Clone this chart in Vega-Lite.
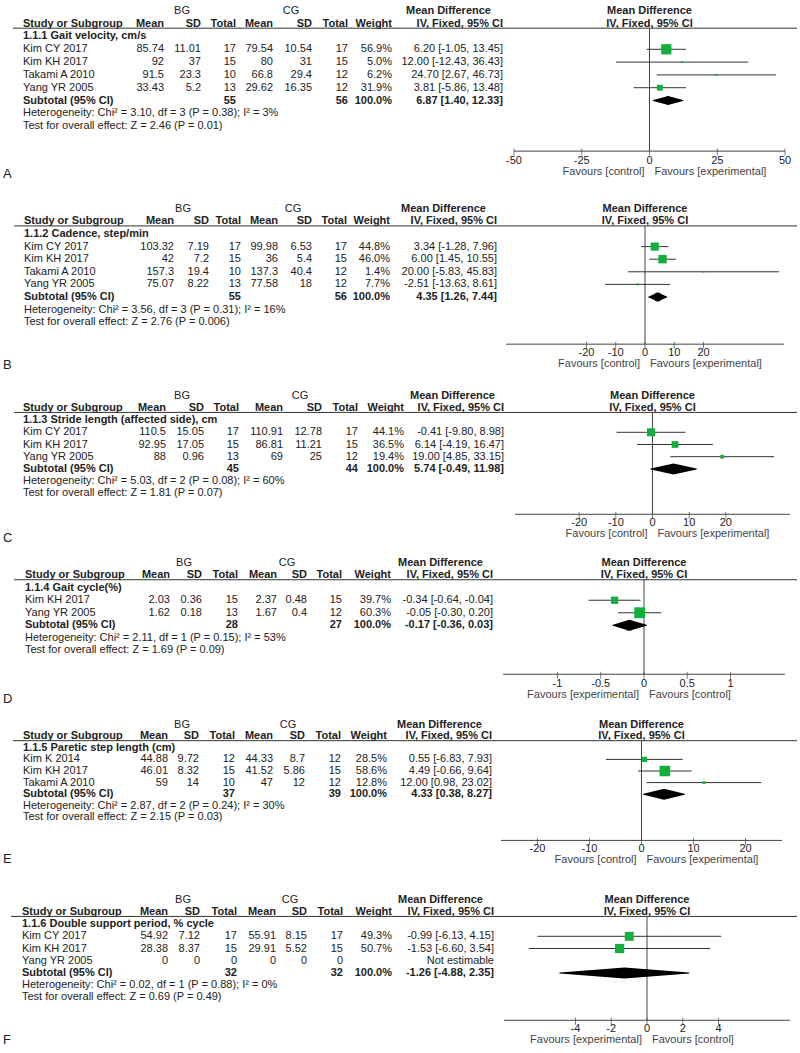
{
"$schema":"https://vega.github.io/schema/vega-lite/v6.json",
"padding":0,
"background":"white",
"spacing":0,
"bounds":"flush",
"config":{"view":{"stroke":null},"text":{"font":"Liberation Sans","fontSize":11,"baseline":"middle","color":"#222"},"concat":{"spacing":0}},
"resolve":{"scale":{"x":"independent","y":"independent","size":"independent"}},
"datasets":{"rows":[
{"p":"A","kind":"grp","label":"","g1":"BG","g2":"CG","mdh":"Mean Difference"},
{"p":"A","kind":"hdr","label":"Study or Subgroup","bm":"Mean","bs":"SD","bn":"Total","cm":"Mean","cs":"SD","cn":"Total","w":"Weight","ci":"IV, Fixed, 95% CI"},
{"p":"A","kind":"title","label":"1.1.1 Gait velocity, cm/s"},
{"p":"A","kind":"study","label":"Kim CY 2017","bm":85.74,"bs":11.01,"bn":17,"cm":79.54,"cs":10.54,"cn":17,"w":"56.9%","wt":56.9,"md":6.2,"lo":-1.05,"hi":13.45,"ci":"6.20 [-1.05, 13.45]"},
{"p":"A","kind":"study","label":"Kim KH 2017","bm":92,"bs":37,"bn":15,"cm":80,"cs":31,"cn":15,"w":"5.0%","wt":5,"md":12,"lo":-12.43,"hi":36.43,"ci":"12.00 [-12.43, 36.43]"},
{"p":"A","kind":"study","label":"Takami A 2010","bm":91.5,"bs":23.3,"bn":10,"cm":66.8,"cs":29.4,"cn":12,"w":"6.2%","wt":6.2,"md":24.7,"lo":2.67,"hi":46.73,"ci":"24.70 [2.67, 46.73]"},
{"p":"A","kind":"study","label":"Yang YR 2005","bm":33.43,"bs":5.2,"bn":13,"cm":29.62,"cs":16.35,"cn":12,"w":"31.9%","wt":31.9,"md":3.81,"lo":-5.86,"hi":13.48,"ci":"3.81 [-5.86, 13.48]"},
{"p":"A","kind":"sub","label":"Subtotal (95% CI)","bn":55,"cn":56,"w":"100.0%","md":6.87,"lo":1.4,"hi":12.33,"ci":"6.87 [1.40, 12.33]"},
{"p":"A","kind":"het","label":"Heterogeneity: Chi² = 3.10, df = 3 (P = 0.38); I² = 3%"},
{"p":"A","kind":"test","label":"Test for overall effect: Z = 2.46 (P = 0.01)","fl":"Favours [control]","fr":"Favours [experimental]","letter":"A","ticks":[-50,-25,0,25,50]},

{"p":"B","kind":"grp","label":"","g1":"BG","g2":"CG","mdh":"Mean Difference"},
{"p":"B","kind":"hdr","label":"Study or Subgroup","bm":"Mean","bs":"SD","bn":"Total","cm":"Mean","cs":"SD","cn":"Total","w":"Weight","ci":"IV, Fixed, 95% CI"},
{"p":"B","kind":"title","label":"1.1.2 Cadence, step/min"},
{"p":"B","kind":"study","label":"Kim CY 2017","bm":103.32,"bs":7.19,"bn":17,"cm":99.98,"cs":6.53,"cn":17,"w":"44.8%","wt":44.8,"md":3.34,"lo":-1.28,"hi":7.96,"ci":"3.34 [-1.28, 7.96]"},
{"p":"B","kind":"study","label":"Kim KH 2017","bm":42,"bs":7.2,"bn":15,"cm":36,"cs":5.4,"cn":15,"w":"46.0%","wt":46,"md":6,"lo":1.45,"hi":10.55,"ci":"6.00 [1.45, 10.55]"},
{"p":"B","kind":"study","label":"Takami A 2010","bm":157.3,"bs":19.4,"bn":10,"cm":137.3,"cs":40.4,"cn":12,"w":"1.4%","wt":1.4,"md":20,"lo":-5.83,"hi":45.83,"ci":"20.00 [-5.83, 45.83]"},
{"p":"B","kind":"study","label":"Yang YR 2005","bm":75.07,"bs":8.22,"bn":13,"cm":77.58,"cs":18,"cn":12,"w":"7.7%","wt":7.7,"md":-2.51,"lo":-13.63,"hi":8.61,"ci":"-2.51 [-13.63, 8.61]"},
{"p":"B","kind":"sub","label":"Subtotal (95% CI)","bn":55,"cn":56,"w":"100.0%","md":4.35,"lo":1.26,"hi":7.44,"ci":"4.35 [1.26, 7.44]"},
{"p":"B","kind":"het","label":"Heterogeneity: Chi² = 3.56, df = 3 (P = 0.31); I² = 16%"},
{"p":"B","kind":"test","label":"Test for overall effect: Z = 2.76 (P = 0.006)","fl":"Favours [control]","fr":"Favours [experimental]","letter":"B","ticks":[-20,-10,0,10,20]},

{"p":"C","kind":"grp","label":"","g1":"BG","g2":"CG","mdh":"Mean Difference"},
{"p":"C","kind":"hdr","label":"Study or Subgroup","bm":"Mean","bs":"SD","bn":"Total","cm":"Mean","cs":"SD","cn":"Total","w":"Weight","ci":"IV, Fixed, 95% CI"},
{"p":"C","kind":"title","label":"1.1.3 Stride length (affected side), cm"},
{"p":"C","kind":"study","label":"Kim CY 2017","bm":110.5,"bs":15.05,"bn":17,"cm":110.91,"cs":12.78,"cn":17,"w":"44.1%","wt":44.1,"md":-0.41,"lo":-9.8,"hi":8.98,"ci":"-0.41 [-9.80, 8.98]"},
{"p":"C","kind":"study","label":"Kim KH 2017","bm":92.95,"bs":17.05,"bn":15,"cm":86.81,"cs":11.21,"cn":15,"w":"36.5%","wt":36.5,"md":6.14,"lo":-4.19,"hi":16.47,"ci":"6.14 [-4.19, 16.47]"},
{"p":"C","kind":"study","label":"Yang YR 2005","bm":88,"bs":0.96,"bn":13,"cm":69,"cs":25,"cn":12,"w":"19.4%","wt":19.4,"md":19,"lo":4.85,"hi":33.15,"ci":"19.00 [4.85, 33.15]"},
{"p":"C","kind":"sub","label":"Subtotal (95% CI)","bn":45,"cn":44,"w":"100.0%","md":5.74,"lo":-0.49,"hi":11.98,"ci":"5.74 [-0.49, 11.98]"},
{"p":"C","kind":"het","label":"Heterogeneity: Chi² = 5.03, df = 2 (P = 0.08); I² = 60%"},
{"p":"C","kind":"test","label":"Test for overall effect: Z = 1.81 (P = 0.07)","fl":"Favours [control]","fr":"Favours [experimental]","letter":"C","ticks":[-20,-10,0,10,20]},

{"p":"D","kind":"grp","label":"","g1":"BG","g2":"CG","mdh":"Mean Difference"},
{"p":"D","kind":"hdr","label":"Study or Subgroup","bm":"Mean","bs":"SD","bn":"Total","cm":"Mean","cs":"SD","cn":"Total","w":"Weight","ci":"IV, Fixed, 95% CI"},
{"p":"D","kind":"title","label":"1.1.4 Gait cycle(%)"},
{"p":"D","kind":"study","label":"Kim KH 2017","bm":2.03,"bs":0.36,"bn":15,"cm":2.37,"cs":0.48,"cn":15,"w":"39.7%","wt":39.7,"md":-0.34,"lo":-0.64,"hi":-0.04,"ci":"-0.34 [-0.64, -0.04]"},
{"p":"D","kind":"study","label":"Yang YR 2005","bm":1.62,"bs":0.18,"bn":13,"cm":1.67,"cs":0.4,"cn":12,"w":"60.3%","wt":60.3,"md":-0.05,"lo":-0.3,"hi":0.2,"ci":"-0.05 [-0.30, 0.20]"},
{"p":"D","kind":"sub","label":"Subtotal (95% CI)","bn":28,"cn":27,"w":"100.0%","md":-0.17,"lo":-0.36,"hi":0.03,"ci":"-0.17 [-0.36, 0.03]"},
{"p":"D","kind":"het","label":"Heterogeneity: Chi² = 2.11, df = 1 (P = 0.15); I² = 53%"},
{"p":"D","kind":"test","label":"Test for overall effect: Z = 1.69 (P = 0.09)","fl":"Favours [experimental]","fr":"Favours [control]","letter":"D","ticks":[-1,-0.5,0,0.5,1]},

{"p":"E","kind":"grp","label":"","g1":"BG","g2":"CG","mdh":"Mean Difference"},
{"p":"E","kind":"hdr","label":"Study or Subgroup","bm":"Mean","bs":"SD","bn":"Total","cm":"Mean","cs":"SD","cn":"Total","w":"Weight","ci":"IV, Fixed, 95% CI"},
{"p":"E","kind":"title","label":"1.1.5 Paretic step length (cm)"},
{"p":"E","kind":"study","label":"Kim K 2014","bm":44.88,"bs":9.72,"bn":12,"cm":44.33,"cs":8.7,"cn":12,"w":"28.5%","wt":28.5,"md":0.55,"lo":-6.83,"hi":7.93,"ci":"0.55 [-6.83, 7.93]"},
{"p":"E","kind":"study","label":"Kim KH 2017","bm":46.01,"bs":8.32,"bn":15,"cm":41.52,"cs":5.86,"cn":15,"w":"58.6%","wt":58.6,"md":4.49,"lo":-0.66,"hi":9.64,"ci":"4.49 [-0.66, 9.64]"},
{"p":"E","kind":"study","label":"Takami A 2010","bm":59,"bs":14,"bn":10,"cm":47,"cs":12,"cn":12,"w":"12.8%","wt":12.8,"md":12,"lo":0.98,"hi":23.02,"ci":"12.00 [0.98, 23.02]"},
{"p":"E","kind":"sub","label":"Subtotal (95% CI)","bn":37,"cn":39,"w":"100.0%","md":4.33,"lo":0.38,"hi":8.27,"ci":"4.33 [0.38, 8.27]"},
{"p":"E","kind":"het","label":"Heterogeneity: Chi² = 2.87, df = 2 (P = 0.24); I² = 30%"},
{"p":"E","kind":"test","label":"Test for overall effect: Z = 2.15 (P = 0.03)","fl":"Favours [control]","fr":"Favours [experimental]","letter":"E","ticks":[-20,-10,0,10,20]},

{"p":"F","kind":"grp","label":"","g1":"BG","g2":"CG","mdh":"Mean Difference"},
{"p":"F","kind":"hdr","label":"Study or Subgroup","bm":"Mean","bs":"SD","bn":"Total","cm":"Mean","cs":"SD","cn":"Total","w":"Weight","ci":"IV, Fixed, 95% CI"},
{"p":"F","kind":"title","label":"1.1.6 Double support period, % cycle"},
{"p":"F","kind":"study","label":"Kim CY 2017","bm":54.92,"bs":7.12,"bn":17,"cm":55.91,"cs":8.15,"cn":17,"w":"49.3%","wt":49.3,"md":-0.99,"lo":-6.13,"hi":4.15,"ci":"-0.99 [-6.13, 4.15]"},
{"p":"F","kind":"study","label":"Kim KH 2017","bm":28.38,"bs":8.37,"bn":15,"cm":29.91,"cs":5.52,"cn":15,"w":"50.7%","wt":50.7,"md":-1.53,"lo":-6.6,"hi":3.54,"ci":"-1.53 [-6.60, 3.54]"},
{"p":"F","kind":"study","label":"Yang YR 2005","bm":0,"bs":0,"bn":0,"cm":0,"cs":0,"cn":0,"ci":"Not estimable"},
{"p":"F","kind":"sub","label":"Subtotal (95% CI)","bn":32,"cn":32,"w":"100.0%","md":-1.26,"lo":-4.88,"hi":2.35,"ci":"-1.26 [-4.88, 2.35]"},
{"p":"F","kind":"het","label":"Heterogeneity: Chi² = 0.02, df = 1 (P = 0.88); I² = 0%"},
{"p":"F","kind":"test","label":"Test for overall effect: Z = 0.69 (P = 0.49)","fl":"Favours [experimental]","fr":"Favours [control]","letter":"F","ticks":[-4,-2,0,2,4]}
]},
"vconcat":[
{
"width":800,"height":182,
"data":{"name":"rows"},
"transform":[{"filter":"datum.p=='A'"}],
"encoding":{"y":{"field":"label","type":"nominal","axis":null,"scale":{"domain":["","Study or Subgroup","1.1.1 Gait velocity, cm/s","Kim CY 2017","Kim KH 2017","Takami A 2010","Yang YR 2005","Subtotal (95% CI)","Heterogeneity: Chi² = 3.10, df = 3 (P = 0.38); I² = 3%","Test for overall effect: Z = 2.46 (P = 0.01)"],"range":[1.28,135.72],"padding":0.5}}},
"layer":[
{"layer":[
{"mark":{"type":"text","align":"left","fontWeight":{"expr":"indexof('hdr title sub',datum.kind)>=0?'bold':'normal'"}},"encoding":{"x":{"datum":23,"type":"quantitative","axis":null,"scale":{"domain":[0,800],"nice":false,"zero":false}},"text":{"field":"label","type":"nominal"}}},
{"transform":[{"filter":"isValid(datum.bm)"}],"mark":{"type":"text","align":"right","fontWeight":{"expr":"indexof('hdr title sub',datum.kind)>=0?'bold':'normal'"}},"encoding":{"x":{"datum":164,"type":"quantitative","axis":null},"text":{"field":"bm","type":"nominal"}}},
{"transform":[{"filter":"isValid(datum.bs)"}],"mark":{"type":"text","align":"right","fontWeight":{"expr":"indexof('hdr title sub',datum.kind)>=0?'bold':'normal'"}},"encoding":{"x":{"datum":201,"type":"quantitative","axis":null},"text":{"field":"bs","type":"nominal"}}},
{"transform":[{"filter":"isValid(datum.bn)"}],"mark":{"type":"text","align":"right","fontWeight":{"expr":"indexof('hdr title sub',datum.kind)>=0?'bold':'normal'"}},"encoding":{"x":{"datum":236,"type":"quantitative","axis":null},"text":{"field":"bn","type":"nominal"}}},
{"transform":[{"filter":"isValid(datum.cm)"}],"mark":{"type":"text","align":"right","fontWeight":{"expr":"indexof('hdr title sub',datum.kind)>=0?'bold':'normal'"}},"encoding":{"x":{"datum":273,"type":"quantitative","axis":null},"text":{"field":"cm","type":"nominal"}}},
{"transform":[{"filter":"isValid(datum.cs)"}],"mark":{"type":"text","align":"right","fontWeight":{"expr":"indexof('hdr title sub',datum.kind)>=0?'bold':'normal'"}},"encoding":{"x":{"datum":312,"type":"quantitative","axis":null},"text":{"field":"cs","type":"nominal"}}},
{"transform":[{"filter":"isValid(datum.cn)"}],"mark":{"type":"text","align":"right","fontWeight":{"expr":"indexof('hdr title sub',datum.kind)>=0?'bold':'normal'"}},"encoding":{"x":{"datum":348,"type":"quantitative","axis":null},"text":{"field":"cn","type":"nominal"}}},
{"transform":[{"filter":"isValid(datum.w)"}],"mark":{"type":"text","align":"right","fontWeight":{"expr":"indexof('hdr title sub',datum.kind)>=0?'bold':'normal'"}},"encoding":{"x":{"datum":392,"type":"quantitative","axis":null},"text":{"field":"w","type":"nominal"}}},
{"transform":[{"filter":"isValid(datum.ci)"}],"mark":{"type":"text","align":"right","fontWeight":{"expr":"indexof('hdr title sub',datum.kind)>=0?'bold':'normal'"}},"encoding":{"x":{"datum":503,"type":"quantitative","axis":null},"text":{"field":"ci","type":"nominal"}}},
{"transform":[{"filter":"datum.kind=='grp'"}],"mark":{"type":"text","align":"center"},"encoding":{"x":{"datum":182,"type":"quantitative","axis":null},"text":{"field":"g1","type":"nominal"}}},
{"transform":[{"filter":"datum.kind=='grp'"}],"mark":{"type":"text","align":"center"},"encoding":{"x":{"datum":291,"type":"quantitative","axis":null},"text":{"field":"g2","type":"nominal"}}},
{"transform":[{"filter":"datum.kind=='grp'"}],"mark":{"type":"text","align":"left","fontWeight":"bold"},"encoding":{"x":{"datum":406,"type":"quantitative","axis":null},"text":{"field":"mdh","type":"nominal"}}},
{"transform":[{"filter":"datum.kind=='hdr'"}],"mark":{"type":"rule","color":"#333","yOffset":4.5},"encoding":{"x":{"datum":13,"type":"quantitative","axis":null},"x2":{"datum":797}}},
{"transform":[{"filter":"datum.kind=='test'"}],"mark":{"type":"text","align":"left","fontSize":13,"yOffset":48},"encoding":{"x":{"datum":3,"type":"quantitative","axis":null},"text":{"field":"letter","type":"nominal"}}}
]},
{"layer":[
{"transform":[{"filter":"datum.kind=='test'"}],"mark":{"type":"rule","color":"#444","yOffset":25,"y2Offset":4.5},"encoding":{"x":{"datum":0,"type":"quantitative","axis":null,"scale":{"domain":[-50,50],"range":[514,785],"nice":false,"zero":false}},"y2":{"datum":"Study or Subgroup"}}},
{"transform":[{"filter":"datum.kind=='test'"}],"mark":{"type":"rule","color":"#444","yOffset":25},"encoding":{"x":{"datum":-50,"type":"quantitative","axis":null},"x2":{"datum":50}}},
{"transform":[{"filter":"datum.kind=='test'"},{"flatten":["ticks"]}],"mark":{"type":"tick","orient":"vertical","size":7,"thickness":1,"color":"#444","yOffset":26},"encoding":{"x":{"field":"ticks","type":"quantitative","axis":null}}},
{"transform":[{"filter":"datum.kind=='test'"},{"flatten":["ticks"]}],"mark":{"type":"text","align":"center","yOffset":35},"encoding":{"x":{"field":"ticks","type":"quantitative","axis":null},"text":{"field":"ticks","type":"nominal"}}},
{"transform":[{"filter":"datum.kind=='test'"}],"mark":{"type":"text","align":"right","dx":-5,"yOffset":46,"color":"#444"},"encoding":{"x":{"datum":0,"type":"quantitative","axis":null},"text":{"field":"fl","type":"nominal"}}},
{"transform":[{"filter":"datum.kind=='test'"}],"mark":{"type":"text","align":"left","dx":5,"yOffset":46,"color":"#444"},"encoding":{"x":{"datum":0,"type":"quantitative","axis":null},"text":{"field":"fr","type":"nominal"}}},
{"transform":[{"filter":"datum.kind=='grp'"}],"mark":{"type":"text","align":"center","fontWeight":"bold"},"encoding":{"x":{"datum":0,"type":"quantitative","axis":null},"text":{"field":"mdh","type":"nominal"}}},
{"transform":[{"filter":"datum.kind=='hdr'"}],"mark":{"type":"text","align":"center","fontWeight":"bold"},"encoding":{"x":{"datum":0,"type":"quantitative","axis":null},"text":{"field":"ci","type":"nominal"}}},
{"transform":[{"filter":"datum.kind=='study'"}],"mark":{"type":"rule","color":"#333"},"encoding":{"x":{"field":"lo","type":"quantitative","axis":null},"x2":{"field":"hi"}}},
{"transform":[{"filter":"datum.kind=='study'"}],"mark":{"type":"square","filled":true,"color":"#12b03b","opacity":1},"encoding":{"x":{"field":"md","type":"quantitative","axis":null},"size":{"field":"wt","type":"quantitative","legend":null,"scale":{"type":"pow","exponent":2,"domain":[0,60],"range":[3,117]}}}},
{"transform":[{"filter":"datum.kind=='sub'"},{"fold":["lo","md","hi"],"as":["k","v"]}],"mark":{"type":"trail","color":"#000"},"encoding":{"x":{"field":"v","type":"quantitative","axis":null},"size":{"condition":{"test":"datum.k=='md'","value":9},"value":0},"order":{"field":"v","type":"quantitative"}}}
]}
],
"resolve":{"scale":{"x":"independent"}}
},
{
"width":800,"height":190,
"data":{"name":"rows"},
"transform":[{"filter":"datum.p=='B'"}],
"encoding":{"y":{"field":"label","type":"nominal","axis":null,"scale":{"domain":["","Study or Subgroup","1.1.2 Cadence, step/min","Kim CY 2017","Kim KH 2017","Takami A 2010","Yang YR 2005","Subtotal (95% CI)","Heterogeneity: Chi² = 3.56, df = 3 (P = 0.31); I² = 16%","Test for overall effect: Z = 2.76 (P = 0.006)"],"range":[17.39,149.61],"padding":0.5}}},
"layer":[
{"layer":[
{"mark":{"type":"text","align":"left","fontWeight":{"expr":"indexof('hdr title sub',datum.kind)>=0?'bold':'normal'"}},"encoding":{"x":{"datum":24,"type":"quantitative","axis":null,"scale":{"domain":[0,800],"nice":false,"zero":false}},"text":{"field":"label","type":"nominal"}}},
{"transform":[{"filter":"isValid(datum.bm)"}],"mark":{"type":"text","align":"right","fontWeight":{"expr":"indexof('hdr title sub',datum.kind)>=0?'bold':'normal'"}},"encoding":{"x":{"datum":174,"type":"quantitative","axis":null},"text":{"field":"bm","type":"nominal"}}},
{"transform":[{"filter":"isValid(datum.bs)"}],"mark":{"type":"text","align":"right","fontWeight":{"expr":"indexof('hdr title sub',datum.kind)>=0?'bold':'normal'"}},"encoding":{"x":{"datum":209,"type":"quantitative","axis":null},"text":{"field":"bs","type":"nominal"}}},
{"transform":[{"filter":"isValid(datum.bn)"}],"mark":{"type":"text","align":"right","fontWeight":{"expr":"indexof('hdr title sub',datum.kind)>=0?'bold':'normal'"}},"encoding":{"x":{"datum":241,"type":"quantitative","axis":null},"text":{"field":"bn","type":"nominal"}}},
{"transform":[{"filter":"isValid(datum.cm)"}],"mark":{"type":"text","align":"right","fontWeight":{"expr":"indexof('hdr title sub',datum.kind)>=0?'bold':'normal'"}},"encoding":{"x":{"datum":278,"type":"quantitative","axis":null},"text":{"field":"cm","type":"nominal"}}},
{"transform":[{"filter":"isValid(datum.cs)"}],"mark":{"type":"text","align":"right","fontWeight":{"expr":"indexof('hdr title sub',datum.kind)>=0?'bold':'normal'"}},"encoding":{"x":{"datum":312,"type":"quantitative","axis":null},"text":{"field":"cs","type":"nominal"}}},
{"transform":[{"filter":"isValid(datum.cn)"}],"mark":{"type":"text","align":"right","fontWeight":{"expr":"indexof('hdr title sub',datum.kind)>=0?'bold':'normal'"}},"encoding":{"x":{"datum":347,"type":"quantitative","axis":null},"text":{"field":"cn","type":"nominal"}}},
{"transform":[{"filter":"isValid(datum.w)"}],"mark":{"type":"text","align":"right","fontWeight":{"expr":"indexof('hdr title sub',datum.kind)>=0?'bold':'normal'"}},"encoding":{"x":{"datum":390,"type":"quantitative","axis":null},"text":{"field":"w","type":"nominal"}}},
{"transform":[{"filter":"isValid(datum.ci)"}],"mark":{"type":"text","align":"right","fontWeight":{"expr":"indexof('hdr title sub',datum.kind)>=0?'bold':'normal'"}},"encoding":{"x":{"datum":497,"type":"quantitative","axis":null},"text":{"field":"ci","type":"nominal"}}},
{"transform":[{"filter":"datum.kind=='grp'"}],"mark":{"type":"text","align":"center"},"encoding":{"x":{"datum":183,"type":"quantitative","axis":null},"text":{"field":"g1","type":"nominal"}}},
{"transform":[{"filter":"datum.kind=='grp'"}],"mark":{"type":"text","align":"center"},"encoding":{"x":{"datum":293,"type":"quantitative","axis":null},"text":{"field":"g2","type":"nominal"}}},
{"transform":[{"filter":"datum.kind=='grp'"}],"mark":{"type":"text","align":"left","fontWeight":"bold"},"encoding":{"x":{"datum":401,"type":"quantitative","axis":null},"text":{"field":"mdh","type":"nominal"}}},
{"transform":[{"filter":"datum.kind=='hdr'"}],"mark":{"type":"rule","color":"#333","yOffset":4.5},"encoding":{"x":{"datum":14,"type":"quantitative","axis":null},"x2":{"datum":797}}},
{"transform":[{"filter":"datum.kind=='test'"}],"mark":{"type":"text","align":"left","fontSize":13,"yOffset":43},"encoding":{"x":{"datum":3,"type":"quantitative","axis":null},"text":{"field":"letter","type":"nominal"}}}
]},
{"layer":[
{"transform":[{"filter":"datum.kind=='test'"}],"mark":{"type":"rule","color":"#444","yOffset":22,"y2Offset":4.5},"encoding":{"x":{"datum":0,"type":"quantitative","axis":null,"scale":{"domain":[-47.5,47.5],"range":[506,784],"nice":false,"zero":false}},"y2":{"datum":"Study or Subgroup"}}},
{"transform":[{"filter":"datum.kind=='test'"}],"mark":{"type":"rule","color":"#444","yOffset":22},"encoding":{"x":{"datum":-47.5,"type":"quantitative","axis":null},"x2":{"datum":47.5}}},
{"transform":[{"filter":"datum.kind=='test'"},{"flatten":["ticks"]}],"mark":{"type":"tick","orient":"vertical","size":7,"thickness":1,"color":"#444","yOffset":23},"encoding":{"x":{"field":"ticks","type":"quantitative","axis":null}}},
{"transform":[{"filter":"datum.kind=='test'"},{"flatten":["ticks"]}],"mark":{"type":"text","align":"center","yOffset":31},"encoding":{"x":{"field":"ticks","type":"quantitative","axis":null},"text":{"field":"ticks","type":"nominal"}}},
{"transform":[{"filter":"datum.kind=='test'"}],"mark":{"type":"text","align":"right","dx":-5,"yOffset":42,"color":"#444"},"encoding":{"x":{"datum":0,"type":"quantitative","axis":null},"text":{"field":"fl","type":"nominal"}}},
{"transform":[{"filter":"datum.kind=='test'"}],"mark":{"type":"text","align":"left","dx":5,"yOffset":42,"color":"#444"},"encoding":{"x":{"datum":0,"type":"quantitative","axis":null},"text":{"field":"fr","type":"nominal"}}},
{"transform":[{"filter":"datum.kind=='grp'"}],"mark":{"type":"text","align":"center","fontWeight":"bold"},"encoding":{"x":{"datum":0,"type":"quantitative","axis":null},"text":{"field":"mdh","type":"nominal"}}},
{"transform":[{"filter":"datum.kind=='hdr'"}],"mark":{"type":"text","align":"center","fontWeight":"bold"},"encoding":{"x":{"datum":0,"type":"quantitative","axis":null},"text":{"field":"ci","type":"nominal"}}},
{"transform":[{"filter":"datum.kind=='study'"}],"mark":{"type":"rule","color":"#333"},"encoding":{"x":{"field":"lo","type":"quantitative","axis":null},"x2":{"field":"hi"}}},
{"transform":[{"filter":"datum.kind=='study'"}],"mark":{"type":"square","filled":true,"color":"#12b03b","opacity":1},"encoding":{"x":{"field":"md","type":"quantitative","axis":null},"size":{"field":"wt","type":"quantitative","legend":null,"scale":{"type":"pow","exponent":2,"domain":[0,60],"range":[3,117]}}}},
{"transform":[{"filter":"datum.kind=='sub'"},{"fold":["lo","md","hi"],"as":["k","v"]}],"mark":{"type":"trail","color":"#000"},"encoding":{"x":{"field":"v","type":"quantitative","axis":null},"size":{"condition":{"test":"datum.k=='md'","value":9},"value":0},"order":{"field":"v","type":"quantitative"}}}
]}
],
"resolve":{"scale":{"x":"independent"}}
},
{
"width":800,"height":173,
"data":{"name":"rows"},
"transform":[{"filter":"datum.p=='C'"}],
"encoding":{"y":{"field":"label","type":"nominal","axis":null,"scale":{"domain":["","Study or Subgroup","1.1.3 Stride length (affected side), cm","Kim CY 2017","Kim KH 2017","Yang YR 2005","Subtotal (95% CI)","Heterogeneity: Chi² = 5.03, df = 2 (P = 0.08); I² = 60%","Test for overall effect: Z = 1.81 (P = 0.07)"],"range":[14.56,130.44],"padding":0.5}}},
"layer":[
{"layer":[
{"mark":{"type":"text","align":"left","fontWeight":{"expr":"indexof('hdr title sub',datum.kind)>=0?'bold':'normal'"}},"encoding":{"x":{"datum":23,"type":"quantitative","axis":null,"scale":{"domain":[0,800],"nice":false,"zero":false}},"text":{"field":"label","type":"nominal"}}},
{"transform":[{"filter":"isValid(datum.bm)"}],"mark":{"type":"text","align":"right","fontWeight":{"expr":"indexof('hdr title sub',datum.kind)>=0?'bold':'normal'"}},"encoding":{"x":{"datum":166,"type":"quantitative","axis":null},"text":{"field":"bm","type":"nominal"}}},
{"transform":[{"filter":"isValid(datum.bs)"}],"mark":{"type":"text","align":"right","fontWeight":{"expr":"indexof('hdr title sub',datum.kind)>=0?'bold':'normal'"}},"encoding":{"x":{"datum":204,"type":"quantitative","axis":null},"text":{"field":"bs","type":"nominal"}}},
{"transform":[{"filter":"isValid(datum.bn)"}],"mark":{"type":"text","align":"right","fontWeight":{"expr":"indexof('hdr title sub',datum.kind)>=0?'bold':'normal'"}},"encoding":{"x":{"datum":239,"type":"quantitative","axis":null},"text":{"field":"bn","type":"nominal"}}},
{"transform":[{"filter":"isValid(datum.cm)"}],"mark":{"type":"text","align":"right","fontWeight":{"expr":"indexof('hdr title sub',datum.kind)>=0?'bold':'normal'"}},"encoding":{"x":{"datum":283,"type":"quantitative","axis":null},"text":{"field":"cm","type":"nominal"}}},
{"transform":[{"filter":"isValid(datum.cs)"}],"mark":{"type":"text","align":"right","fontWeight":{"expr":"indexof('hdr title sub',datum.kind)>=0?'bold':'normal'"}},"encoding":{"x":{"datum":322,"type":"quantitative","axis":null},"text":{"field":"cs","type":"nominal"}}},
{"transform":[{"filter":"isValid(datum.cn)"}],"mark":{"type":"text","align":"right","fontWeight":{"expr":"indexof('hdr title sub',datum.kind)>=0?'bold':'normal'"}},"encoding":{"x":{"datum":358,"type":"quantitative","axis":null},"text":{"field":"cn","type":"nominal"}}},
{"transform":[{"filter":"isValid(datum.w)"}],"mark":{"type":"text","align":"right","fontWeight":{"expr":"indexof('hdr title sub',datum.kind)>=0?'bold':'normal'"}},"encoding":{"x":{"datum":404,"type":"quantitative","axis":null},"text":{"field":"w","type":"nominal"}}},
{"transform":[{"filter":"isValid(datum.ci)"}],"mark":{"type":"text","align":"right","fontWeight":{"expr":"indexof('hdr title sub',datum.kind)>=0?'bold':'normal'"}},"encoding":{"x":{"datum":504,"type":"quantitative","axis":null},"text":{"field":"ci","type":"nominal"}}},
{"transform":[{"filter":"datum.kind=='grp'"}],"mark":{"type":"text","align":"center"},"encoding":{"x":{"datum":182,"type":"quantitative","axis":null},"text":{"field":"g1","type":"nominal"}}},
{"transform":[{"filter":"datum.kind=='grp'"}],"mark":{"type":"text","align":"center"},"encoding":{"x":{"datum":300,"type":"quantitative","axis":null},"text":{"field":"g2","type":"nominal"}}},
{"transform":[{"filter":"datum.kind=='grp'"}],"mark":{"type":"text","align":"left","fontWeight":"bold"},"encoding":{"x":{"datum":410,"type":"quantitative","axis":null},"text":{"field":"mdh","type":"nominal"}}},
{"transform":[{"filter":"datum.kind=='hdr'"}],"mark":{"type":"rule","color":"#333","yOffset":4.5},"encoding":{"x":{"datum":14,"type":"quantitative","axis":null},"x2":{"datum":797}}},
{"transform":[{"filter":"datum.kind=='test'"}],"mark":{"type":"text","align":"left","fontSize":13,"yOffset":45},"encoding":{"x":{"datum":3,"type":"quantitative","axis":null},"text":{"field":"letter","type":"nominal"}}}
]},
{"layer":[
{"transform":[{"filter":"datum.kind=='test'"}],"mark":{"type":"rule","color":"#444","yOffset":21,"y2Offset":4.5},"encoding":{"x":{"datum":0,"type":"quantitative","axis":null,"scale":{"domain":[-37.5,37.5],"range":[515,790],"nice":false,"zero":false}},"y2":{"datum":"Study or Subgroup"}}},
{"transform":[{"filter":"datum.kind=='test'"}],"mark":{"type":"rule","color":"#444","yOffset":21},"encoding":{"x":{"datum":-37.5,"type":"quantitative","axis":null},"x2":{"datum":37.5}}},
{"transform":[{"filter":"datum.kind=='test'"},{"flatten":["ticks"]}],"mark":{"type":"tick","orient":"vertical","size":7,"thickness":1,"color":"#444","yOffset":22},"encoding":{"x":{"field":"ticks","type":"quantitative","axis":null}}},
{"transform":[{"filter":"datum.kind=='test'"},{"flatten":["ticks"]}],"mark":{"type":"text","align":"center","yOffset":30},"encoding":{"x":{"field":"ticks","type":"quantitative","axis":null},"text":{"field":"ticks","type":"nominal"}}},
{"transform":[{"filter":"datum.kind=='test'"}],"mark":{"type":"text","align":"right","dx":-5,"yOffset":41,"color":"#444"},"encoding":{"x":{"datum":0,"type":"quantitative","axis":null},"text":{"field":"fl","type":"nominal"}}},
{"transform":[{"filter":"datum.kind=='test'"}],"mark":{"type":"text","align":"left","dx":5,"yOffset":41,"color":"#444"},"encoding":{"x":{"datum":0,"type":"quantitative","axis":null},"text":{"field":"fr","type":"nominal"}}},
{"transform":[{"filter":"datum.kind=='grp'"}],"mark":{"type":"text","align":"center","fontWeight":"bold"},"encoding":{"x":{"datum":0,"type":"quantitative","axis":null},"text":{"field":"mdh","type":"nominal"}}},
{"transform":[{"filter":"datum.kind=='hdr'"}],"mark":{"type":"text","align":"center","fontWeight":"bold"},"encoding":{"x":{"datum":0,"type":"quantitative","axis":null},"text":{"field":"ci","type":"nominal"}}},
{"transform":[{"filter":"datum.kind=='study'"}],"mark":{"type":"rule","color":"#333"},"encoding":{"x":{"field":"lo","type":"quantitative","axis":null},"x2":{"field":"hi"}}},
{"transform":[{"filter":"datum.kind=='study'"}],"mark":{"type":"square","filled":true,"color":"#12b03b","opacity":1},"encoding":{"x":{"field":"md","type":"quantitative","axis":null},"size":{"field":"wt","type":"quantitative","legend":null,"scale":{"type":"pow","exponent":2,"domain":[0,60],"range":[3,117]}}}},
{"transform":[{"filter":"datum.kind=='sub'"},{"fold":["lo","md","hi"],"as":["k","v"]}],"mark":{"type":"trail","color":"#000"},"encoding":{"x":{"field":"v","type":"quantitative","axis":null},"size":{"condition":{"test":"datum.k=='md'","value":11},"value":0},"order":{"field":"v","type":"quantitative"}}}
]}
],
"resolve":{"scale":{"x":"independent"}}
},
{
"width":800,"height":161,
"data":{"name":"rows"},
"transform":[{"filter":"datum.p=='D'"}],
"encoding":{"y":{"field":"label","type":"nominal","axis":null,"scale":{"domain":["","Study or Subgroup","1.1.4 Gait cycle(%)","Kim KH 2017","Yang YR 2005","Subtotal (95% CI)","Heterogeneity: Chi² = 2.11, df = 1 (P = 0.15); I² = 53%","Test for overall effect: Z = 1.69 (P = 0.09)"],"range":[8.36,114.64],"padding":0.5}}},
"layer":[
{"layer":[
{"mark":{"type":"text","align":"left","fontWeight":{"expr":"indexof('hdr title sub',datum.kind)>=0?'bold':'normal'"}},"encoding":{"x":{"datum":25,"type":"quantitative","axis":null,"scale":{"domain":[0,800],"nice":false,"zero":false}},"text":{"field":"label","type":"nominal"}}},
{"transform":[{"filter":"isValid(datum.bm)"}],"mark":{"type":"text","align":"right","fontWeight":{"expr":"indexof('hdr title sub',datum.kind)>=0?'bold':'normal'"}},"encoding":{"x":{"datum":170,"type":"quantitative","axis":null},"text":{"field":"bm","type":"nominal"}}},
{"transform":[{"filter":"isValid(datum.bs)"}],"mark":{"type":"text","align":"right","fontWeight":{"expr":"indexof('hdr title sub',datum.kind)>=0?'bold':'normal'"}},"encoding":{"x":{"datum":202,"type":"quantitative","axis":null},"text":{"field":"bs","type":"nominal"}}},
{"transform":[{"filter":"isValid(datum.bn)"}],"mark":{"type":"text","align":"right","fontWeight":{"expr":"indexof('hdr title sub',datum.kind)>=0?'bold':'normal'"}},"encoding":{"x":{"datum":238,"type":"quantitative","axis":null},"text":{"field":"bn","type":"nominal"}}},
{"transform":[{"filter":"isValid(datum.cm)"}],"mark":{"type":"text","align":"right","fontWeight":{"expr":"indexof('hdr title sub',datum.kind)>=0?'bold':'normal'"}},"encoding":{"x":{"datum":277,"type":"quantitative","axis":null},"text":{"field":"cm","type":"nominal"}}},
{"transform":[{"filter":"isValid(datum.cs)"}],"mark":{"type":"text","align":"right","fontWeight":{"expr":"indexof('hdr title sub',datum.kind)>=0?'bold':'normal'"}},"encoding":{"x":{"datum":307,"type":"quantitative","axis":null},"text":{"field":"cs","type":"nominal"}}},
{"transform":[{"filter":"isValid(datum.cn)"}],"mark":{"type":"text","align":"right","fontWeight":{"expr":"indexof('hdr title sub',datum.kind)>=0?'bold':'normal'"}},"encoding":{"x":{"datum":342,"type":"quantitative","axis":null},"text":{"field":"cn","type":"nominal"}}},
{"transform":[{"filter":"isValid(datum.w)"}],"mark":{"type":"text","align":"right","fontWeight":{"expr":"indexof('hdr title sub',datum.kind)>=0?'bold':'normal'"}},"encoding":{"x":{"datum":391,"type":"quantitative","axis":null},"text":{"field":"w","type":"nominal"}}},
{"transform":[{"filter":"isValid(datum.ci)"}],"mark":{"type":"text","align":"right","fontWeight":{"expr":"indexof('hdr title sub',datum.kind)>=0?'bold':'normal'"}},"encoding":{"x":{"datum":493,"type":"quantitative","axis":null},"text":{"field":"ci","type":"nominal"}}},
{"transform":[{"filter":"datum.kind=='grp'"}],"mark":{"type":"text","align":"center"},"encoding":{"x":{"datum":184,"type":"quantitative","axis":null},"text":{"field":"g1","type":"nominal"}}},
{"transform":[{"filter":"datum.kind=='grp'"}],"mark":{"type":"text","align":"center"},"encoding":{"x":{"datum":287,"type":"quantitative","axis":null},"text":{"field":"g2","type":"nominal"}}},
{"transform":[{"filter":"datum.kind=='grp'"}],"mark":{"type":"text","align":"left","fontWeight":"bold"},"encoding":{"x":{"datum":398,"type":"quantitative","axis":null},"text":{"field":"mdh","type":"nominal"}}},
{"transform":[{"filter":"datum.kind=='hdr'"}],"mark":{"type":"rule","color":"#333","yOffset":4.5},"encoding":{"x":{"datum":14,"type":"quantitative","axis":null},"x2":{"datum":797}}},
{"transform":[{"filter":"datum.kind=='test'"}],"mark":{"type":"text","align":"left","fontSize":13,"yOffset":49},"encoding":{"x":{"datum":3,"type":"quantitative","axis":null},"text":{"field":"letter","type":"nominal"}}}
]},
{"layer":[
{"transform":[{"filter":"datum.kind=='test'"}],"mark":{"type":"rule","color":"#444","yOffset":24,"y2Offset":4.5},"encoding":{"x":{"datum":0,"type":"quantitative","axis":null,"scale":{"domain":[-1.63,1.63],"range":[503,785],"nice":false,"zero":false}},"y2":{"datum":"Study or Subgroup"}}},
{"transform":[{"filter":"datum.kind=='test'"}],"mark":{"type":"rule","color":"#444","yOffset":24},"encoding":{"x":{"datum":-1.63,"type":"quantitative","axis":null},"x2":{"datum":1.63}}},
{"transform":[{"filter":"datum.kind=='test'"},{"flatten":["ticks"]}],"mark":{"type":"tick","orient":"vertical","size":7,"thickness":1,"color":"#444","yOffset":25},"encoding":{"x":{"field":"ticks","type":"quantitative","axis":null}}},
{"transform":[{"filter":"datum.kind=='test'"},{"flatten":["ticks"]}],"mark":{"type":"text","align":"center","yOffset":34},"encoding":{"x":{"field":"ticks","type":"quantitative","axis":null},"text":{"field":"ticks","type":"nominal"}}},
{"transform":[{"filter":"datum.kind=='test'"}],"mark":{"type":"text","align":"right","dx":-5,"yOffset":45,"color":"#444"},"encoding":{"x":{"datum":0,"type":"quantitative","axis":null},"text":{"field":"fl","type":"nominal"}}},
{"transform":[{"filter":"datum.kind=='test'"}],"mark":{"type":"text","align":"left","dx":5,"yOffset":45,"color":"#444"},"encoding":{"x":{"datum":0,"type":"quantitative","axis":null},"text":{"field":"fr","type":"nominal"}}},
{"transform":[{"filter":"datum.kind=='grp'"}],"mark":{"type":"text","align":"center","fontWeight":"bold"},"encoding":{"x":{"datum":0,"type":"quantitative","axis":null},"text":{"field":"mdh","type":"nominal"}}},
{"transform":[{"filter":"datum.kind=='hdr'"}],"mark":{"type":"text","align":"center","fontWeight":"bold"},"encoding":{"x":{"datum":0,"type":"quantitative","axis":null},"text":{"field":"ci","type":"nominal"}}},
{"transform":[{"filter":"datum.kind=='study'"}],"mark":{"type":"rule","color":"#333"},"encoding":{"x":{"field":"lo","type":"quantitative","axis":null},"x2":{"field":"hi"}}},
{"transform":[{"filter":"datum.kind=='study'"}],"mark":{"type":"square","filled":true,"color":"#12b03b","opacity":1},"encoding":{"x":{"field":"md","type":"quantitative","axis":null},"size":{"field":"wt","type":"quantitative","legend":null,"scale":{"type":"pow","exponent":2,"domain":[0,60],"range":[3,117]}}}},
{"transform":[{"filter":"datum.kind=='sub'"},{"fold":["lo","md","hi"],"as":["k","v"]}],"mark":{"type":"trail","color":"#000"},"encoding":{"x":{"field":"v","type":"quantitative","axis":null},"size":{"condition":{"test":"datum.k=='md'","value":11},"value":0},"order":{"field":"v","type":"quantitative"}}}
]}
],
"resolve":{"scale":{"x":"independent"}}
},
{
"width":800,"height":162,
"data":{"name":"rows"},
"transform":[{"filter":"datum.p=='E'"}],
"encoding":{"y":{"field":"label","type":"nominal","axis":null,"scale":{"domain":["","Study or Subgroup","1.1.5 Paretic step length (cm)","Kim K 2014","Kim KH 2017","Takami A 2010","Subtotal (95% CI)","Heterogeneity: Chi² = 2.87, df = 2 (P = 0.24); I² = 30%","Test for overall effect: Z = 2.15 (P = 0.03)"],"range":[9.875,120.125],"padding":0.5}}},
"layer":[
{"layer":[
{"mark":{"type":"text","align":"left","fontWeight":{"expr":"indexof('hdr title sub',datum.kind)>=0?'bold':'normal'"}},"encoding":{"x":{"datum":23,"type":"quantitative","axis":null,"scale":{"domain":[0,800],"nice":false,"zero":false}},"text":{"field":"label","type":"nominal"}}},
{"transform":[{"filter":"isValid(datum.bm)"}],"mark":{"type":"text","align":"right","fontWeight":{"expr":"indexof('hdr title sub',datum.kind)>=0?'bold':'normal'"}},"encoding":{"x":{"datum":168,"type":"quantitative","axis":null},"text":{"field":"bm","type":"nominal"}}},
{"transform":[{"filter":"isValid(datum.bs)"}],"mark":{"type":"text","align":"right","fontWeight":{"expr":"indexof('hdr title sub',datum.kind)>=0?'bold':'normal'"}},"encoding":{"x":{"datum":199,"type":"quantitative","axis":null},"text":{"field":"bs","type":"nominal"}}},
{"transform":[{"filter":"isValid(datum.bn)"}],"mark":{"type":"text","align":"right","fontWeight":{"expr":"indexof('hdr title sub',datum.kind)>=0?'bold':'normal'"}},"encoding":{"x":{"datum":235,"type":"quantitative","axis":null},"text":{"field":"bn","type":"nominal"}}},
{"transform":[{"filter":"isValid(datum.cm)"}],"mark":{"type":"text","align":"right","fontWeight":{"expr":"indexof('hdr title sub',datum.kind)>=0?'bold':'normal'"}},"encoding":{"x":{"datum":273,"type":"quantitative","axis":null},"text":{"field":"cm","type":"nominal"}}},
{"transform":[{"filter":"isValid(datum.cs)"}],"mark":{"type":"text","align":"right","fontWeight":{"expr":"indexof('hdr title sub',datum.kind)>=0?'bold':'normal'"}},"encoding":{"x":{"datum":305,"type":"quantitative","axis":null},"text":{"field":"cs","type":"nominal"}}},
{"transform":[{"filter":"isValid(datum.cn)"}],"mark":{"type":"text","align":"right","fontWeight":{"expr":"indexof('hdr title sub',datum.kind)>=0?'bold':'normal'"}},"encoding":{"x":{"datum":341,"type":"quantitative","axis":null},"text":{"field":"cn","type":"nominal"}}},
{"transform":[{"filter":"isValid(datum.w)"}],"mark":{"type":"text","align":"right","fontWeight":{"expr":"indexof('hdr title sub',datum.kind)>=0?'bold':'normal'"}},"encoding":{"x":{"datum":387,"type":"quantitative","axis":null},"text":{"field":"w","type":"nominal"}}},
{"transform":[{"filter":"isValid(datum.ci)"}],"mark":{"type":"text","align":"right","fontWeight":{"expr":"indexof('hdr title sub',datum.kind)>=0?'bold':'normal'"}},"encoding":{"x":{"datum":492,"type":"quantitative","axis":null},"text":{"field":"ci","type":"nominal"}}},
{"transform":[{"filter":"datum.kind=='grp'"}],"mark":{"type":"text","align":"center"},"encoding":{"x":{"datum":182,"type":"quantitative","axis":null},"text":{"field":"g1","type":"nominal"}}},
{"transform":[{"filter":"datum.kind=='grp'"}],"mark":{"type":"text","align":"center"},"encoding":{"x":{"datum":288,"type":"quantitative","axis":null},"text":{"field":"g2","type":"nominal"}}},
{"transform":[{"filter":"datum.kind=='grp'"}],"mark":{"type":"text","align":"left","fontWeight":"bold"},"encoding":{"x":{"datum":397,"type":"quantitative","axis":null},"text":{"field":"mdh","type":"nominal"}}},
{"transform":[{"filter":"datum.kind=='hdr'"}],"mark":{"type":"rule","color":"#333","yOffset":4.5},"encoding":{"x":{"datum":13,"type":"quantitative","axis":null},"x2":{"datum":797}}},
{"transform":[{"filter":"datum.kind=='test'"}],"mark":{"type":"text","align":"left","fontSize":13,"yOffset":42},"encoding":{"x":{"datum":3,"type":"quantitative","axis":null},"text":{"field":"letter","type":"nominal"}}}
]},
{"layer":[
{"transform":[{"filter":"datum.kind=='test'"}],"mark":{"type":"rule","color":"#444","yOffset":23,"y2Offset":4.5},"encoding":{"x":{"datum":0,"type":"quantitative","axis":null,"scale":{"domain":[-27,27],"range":[501,782],"nice":false,"zero":false}},"y2":{"datum":"Study or Subgroup"}}},
{"transform":[{"filter":"datum.kind=='test'"}],"mark":{"type":"rule","color":"#444","yOffset":23},"encoding":{"x":{"datum":-27,"type":"quantitative","axis":null},"x2":{"datum":27}}},
{"transform":[{"filter":"datum.kind=='test'"},{"flatten":["ticks"]}],"mark":{"type":"tick","orient":"vertical","size":7,"thickness":1,"color":"#444","yOffset":24},"encoding":{"x":{"field":"ticks","type":"quantitative","axis":null}}},
{"transform":[{"filter":"datum.kind=='test'"},{"flatten":["ticks"]}],"mark":{"type":"text","align":"center","yOffset":32},"encoding":{"x":{"field":"ticks","type":"quantitative","axis":null},"text":{"field":"ticks","type":"nominal"}}},
{"transform":[{"filter":"datum.kind=='test'"}],"mark":{"type":"text","align":"right","dx":-5,"yOffset":43,"color":"#444"},"encoding":{"x":{"datum":0,"type":"quantitative","axis":null},"text":{"field":"fl","type":"nominal"}}},
{"transform":[{"filter":"datum.kind=='test'"}],"mark":{"type":"text","align":"left","dx":5,"yOffset":43,"color":"#444"},"encoding":{"x":{"datum":0,"type":"quantitative","axis":null},"text":{"field":"fr","type":"nominal"}}},
{"transform":[{"filter":"datum.kind=='grp'"}],"mark":{"type":"text","align":"center","fontWeight":"bold"},"encoding":{"x":{"datum":0,"type":"quantitative","axis":null},"text":{"field":"mdh","type":"nominal"}}},
{"transform":[{"filter":"datum.kind=='hdr'"}],"mark":{"type":"text","align":"center","fontWeight":"bold"},"encoding":{"x":{"datum":0,"type":"quantitative","axis":null},"text":{"field":"ci","type":"nominal"}}},
{"transform":[{"filter":"datum.kind=='study'"}],"mark":{"type":"rule","color":"#333"},"encoding":{"x":{"field":"lo","type":"quantitative","axis":null},"x2":{"field":"hi"}}},
{"transform":[{"filter":"datum.kind=='study'"}],"mark":{"type":"square","filled":true,"color":"#12b03b","opacity":1},"encoding":{"x":{"field":"md","type":"quantitative","axis":null},"size":{"field":"wt","type":"quantitative","legend":null,"scale":{"type":"pow","exponent":2,"domain":[0,60],"range":[3,117]}}}},
{"transform":[{"filter":"datum.kind=='sub'"},{"fold":["lo","md","hi"],"as":["k","v"]}],"mark":{"type":"trail","color":"#000"},"encoding":{"x":{"field":"v","type":"quantitative","axis":null},"size":{"condition":{"test":"datum.k=='md'","value":11},"value":0},"order":{"field":"v","type":"quantitative"}}}
]}
],
"resolve":{"scale":{"x":"independent"}}
},
{
"width":800,"height":185,
"data":{"name":"rows"},
"transform":[{"filter":"datum.p=='F'"}],
"encoding":{"y":{"field":"label","type":"nominal","axis":null,"scale":{"domain":["","Study or Subgroup","1.1.6 Double support period, % cycle","Kim CY 2017","Kim KH 2017","Yang YR 2005","Subtotal (95% CI)","Heterogeneity: Chi² = 0.02, df = 1 (P = 0.88); I² = 0%","Test for overall effect: Z = 0.69 (P = 0.49)"],"range":[22.56,138.44],"padding":0.5}}},
"layer":[
{"layer":[
{"mark":{"type":"text","align":"left","fontWeight":{"expr":"indexof('hdr title sub',datum.kind)>=0?'bold':'normal'"}},"encoding":{"x":{"datum":22,"type":"quantitative","axis":null,"scale":{"domain":[0,800],"nice":false,"zero":false}},"text":{"field":"label","type":"nominal"}}},
{"transform":[{"filter":"isValid(datum.bm)"}],"mark":{"type":"text","align":"right","fontWeight":{"expr":"indexof('hdr title sub',datum.kind)>=0?'bold':'normal'"}},"encoding":{"x":{"datum":168,"type":"quantitative","axis":null},"text":{"field":"bm","type":"nominal"}}},
{"transform":[{"filter":"isValid(datum.bs)"}],"mark":{"type":"text","align":"right","fontWeight":{"expr":"indexof('hdr title sub',datum.kind)>=0?'bold':'normal'"}},"encoding":{"x":{"datum":200,"type":"quantitative","axis":null},"text":{"field":"bs","type":"nominal"}}},
{"transform":[{"filter":"isValid(datum.bn)"}],"mark":{"type":"text","align":"right","fontWeight":{"expr":"indexof('hdr title sub',datum.kind)>=0?'bold':'normal'"}},"encoding":{"x":{"datum":237,"type":"quantitative","axis":null},"text":{"field":"bn","type":"nominal"}}},
{"transform":[{"filter":"isValid(datum.cm)"}],"mark":{"type":"text","align":"right","fontWeight":{"expr":"indexof('hdr title sub',datum.kind)>=0?'bold':'normal'"}},"encoding":{"x":{"datum":276,"type":"quantitative","axis":null},"text":{"field":"cm","type":"nominal"}}},
{"transform":[{"filter":"isValid(datum.cs)"}],"mark":{"type":"text","align":"right","fontWeight":{"expr":"indexof('hdr title sub',datum.kind)>=0?'bold':'normal'"}},"encoding":{"x":{"datum":307,"type":"quantitative","axis":null},"text":{"field":"cs","type":"nominal"}}},
{"transform":[{"filter":"isValid(datum.cn)"}],"mark":{"type":"text","align":"right","fontWeight":{"expr":"indexof('hdr title sub',datum.kind)>=0?'bold':'normal'"}},"encoding":{"x":{"datum":343,"type":"quantitative","axis":null},"text":{"field":"cn","type":"nominal"}}},
{"transform":[{"filter":"isValid(datum.w)"}],"mark":{"type":"text","align":"right","fontWeight":{"expr":"indexof('hdr title sub',datum.kind)>=0?'bold':'normal'"}},"encoding":{"x":{"datum":392,"type":"quantitative","axis":null},"text":{"field":"w","type":"nominal"}}},
{"transform":[{"filter":"isValid(datum.ci)"}],"mark":{"type":"text","align":"right","fontWeight":{"expr":"indexof('hdr title sub',datum.kind)>=0?'bold':'normal'"}},"encoding":{"x":{"datum":494,"type":"quantitative","axis":null},"text":{"field":"ci","type":"nominal"}}},
{"transform":[{"filter":"datum.kind=='grp'"}],"mark":{"type":"text","align":"center"},"encoding":{"x":{"datum":183,"type":"quantitative","axis":null},"text":{"field":"g1","type":"nominal"}}},
{"transform":[{"filter":"datum.kind=='grp'"}],"mark":{"type":"text","align":"center"},"encoding":{"x":{"datum":290,"type":"quantitative","axis":null},"text":{"field":"g2","type":"nominal"}}},
{"transform":[{"filter":"datum.kind=='grp'"}],"mark":{"type":"text","align":"left","fontWeight":"bold"},"encoding":{"x":{"datum":398,"type":"quantitative","axis":null},"text":{"field":"mdh","type":"nominal"}}},
{"transform":[{"filter":"datum.kind=='hdr'"}],"mark":{"type":"rule","color":"#333","yOffset":4.5},"encoding":{"x":{"datum":11,"type":"quantitative","axis":null},"x2":{"datum":797}}},
{"transform":[{"filter":"datum.kind=='test'"}],"mark":{"type":"text","align":"left","fontSize":13,"yOffset":43},"encoding":{"x":{"datum":3,"type":"quantitative","axis":null},"text":{"field":"letter","type":"nominal"}}}
]},
{"layer":[
{"transform":[{"filter":"datum.kind=='test'"}],"mark":{"type":"rule","color":"#444","yOffset":23,"y2Offset":4.5},"encoding":{"x":{"datum":0,"type":"quantitative","axis":null,"scale":{"domain":[-8,8],"range":[504,790],"nice":false,"zero":false}},"y2":{"datum":"Study or Subgroup"}}},
{"transform":[{"filter":"datum.kind=='test'"}],"mark":{"type":"rule","color":"#444","yOffset":23},"encoding":{"x":{"datum":-8,"type":"quantitative","axis":null},"x2":{"datum":8}}},
{"transform":[{"filter":"datum.kind=='test'"},{"flatten":["ticks"]}],"mark":{"type":"tick","orient":"vertical","size":7,"thickness":1,"color":"#444","yOffset":24},"encoding":{"x":{"field":"ticks","type":"quantitative","axis":null}}},
{"transform":[{"filter":"datum.kind=='test'"},{"flatten":["ticks"]}],"mark":{"type":"text","align":"center","yOffset":32},"encoding":{"x":{"field":"ticks","type":"quantitative","axis":null},"text":{"field":"ticks","type":"nominal"}}},
{"transform":[{"filter":"datum.kind=='test'"}],"mark":{"type":"text","align":"right","dx":-5,"yOffset":43,"color":"#444"},"encoding":{"x":{"datum":0,"type":"quantitative","axis":null},"text":{"field":"fl","type":"nominal"}}},
{"transform":[{"filter":"datum.kind=='test'"}],"mark":{"type":"text","align":"left","dx":5,"yOffset":43,"color":"#444"},"encoding":{"x":{"datum":0,"type":"quantitative","axis":null},"text":{"field":"fr","type":"nominal"}}},
{"transform":[{"filter":"datum.kind=='grp'"}],"mark":{"type":"text","align":"center","fontWeight":"bold"},"encoding":{"x":{"datum":0,"type":"quantitative","axis":null},"text":{"field":"mdh","type":"nominal"}}},
{"transform":[{"filter":"datum.kind=='hdr'"}],"mark":{"type":"text","align":"center","fontWeight":"bold"},"encoding":{"x":{"datum":0,"type":"quantitative","axis":null},"text":{"field":"ci","type":"nominal"}}},
{"transform":[{"filter":"datum.kind=='study'"}],"mark":{"type":"rule","color":"#333"},"encoding":{"x":{"field":"lo","type":"quantitative","axis":null},"x2":{"field":"hi"}}},
{"transform":[{"filter":"datum.kind=='study'"}],"mark":{"type":"square","filled":true,"color":"#12b03b","opacity":1},"encoding":{"x":{"field":"md","type":"quantitative","axis":null},"size":{"field":"wt","type":"quantitative","legend":null,"scale":{"type":"pow","exponent":2,"domain":[0,60],"range":[3,117]}}}},
{"transform":[{"filter":"datum.kind=='sub'"},{"fold":["lo","md","hi"],"as":["k","v"]}],"mark":{"type":"trail","color":"#000"},"encoding":{"x":{"field":"v","type":"quantitative","axis":null},"size":{"condition":{"test":"datum.k=='md'","value":11},"value":0},"order":{"field":"v","type":"quantitative"}}}
]}
],
"resolve":{"scale":{"x":"independent"}}
}
]
}
